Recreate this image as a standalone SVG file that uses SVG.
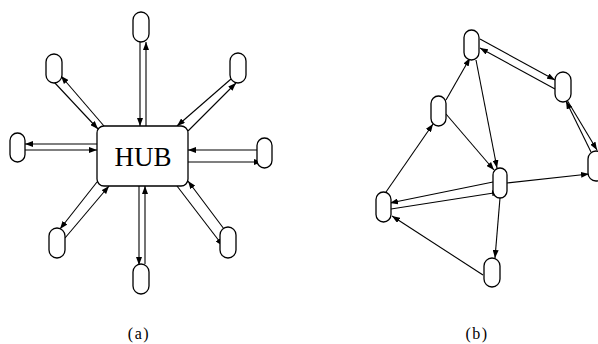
<svg xmlns="http://www.w3.org/2000/svg" width="598" height="344" viewBox="0 0 598 344">
  <style>
    .node { fill: #fff; stroke: #000; stroke-width: 1.3; }
    .edge { fill: none; stroke: #000; stroke-width: 1.1; marker-end: url(#arrow); }
    .lbl { font-family: "Liberation Serif", "Times New Roman", serif; fill: #000; text-anchor: middle; }
    .cap { font-size: 16px; letter-spacing: 1.5px; }
  </style>
  <defs>
    <marker id="arrow" markerUnits="userSpaceOnUse" markerWidth="9" markerHeight="6" refX="8" refY="3" orient="auto">
      <path d="M0,0 L8,3 L0,6 z" fill="#000"/>
    </marker>
  </defs>

  <rect width="598" height="344" fill="#fff"/>

  <!-- (a) star topology: connectors -->
  <g id="edges-a">
    <!-- top -->
    <line class="edge" x1="140" y1="42" x2="140" y2="126"/>
    <line class="edge" x1="146" y1="126" x2="146" y2="42"/>
    <!-- top-left -->
    <line class="edge" x1="54" y1="82" x2="98" y2="129"/>
    <line class="edge" x1="104" y1="126" x2="61" y2="76"/>
    <!-- top-right -->
    <line class="edge" x1="231" y1="79" x2="177" y2="126"/>
    <line class="edge" x1="188" y1="131" x2="236" y2="83"/>
    <!-- left -->
    <line class="edge" x1="97" y1="144" x2="25" y2="144"/>
    <line class="edge" x1="25" y1="150" x2="97" y2="150"/>
    <!-- right -->
    <line class="edge" x1="257" y1="150" x2="188" y2="150"/>
    <line class="edge" x1="188" y1="162" x2="262" y2="162"/>
    <!-- bottom-left -->
    <line class="edge" x1="97" y1="182" x2="60" y2="229"/>
    <line class="edge" x1="65" y1="238" x2="109" y2="186"/>
    <!-- bottom -->
    <line class="edge" x1="139" y1="186" x2="139" y2="265"/>
    <line class="edge" x1="145" y1="264" x2="145" y2="186"/>
    <!-- bottom-right -->
    <line class="edge" x1="177" y1="186" x2="223" y2="246"/>
    <line class="edge" x1="224" y1="229" x2="188" y2="181"/>
  </g>

  <!-- (a) nodes -->
  <g id="hub">
    <rect class="node" x="97" y="126" width="91" height="60" rx="7"/>
    <text class="lbl" x="143" y="166" font-size="27">HUB</text>
  </g>
  <g id="a-top"><rect class="node" x="133" y="12" width="16" height="30" rx="8"/></g>
  <g id="a-top-left"><rect class="node" x="46" y="54" width="16" height="29" rx="8"/></g>
  <g id="a-top-right"><rect class="node" x="230" y="53" width="16" height="30" rx="8"/></g>
  <g id="a-left"><rect class="node" x="10" y="133" width="15" height="29" rx="7.5"/></g>
  <g id="a-right"><rect class="node" x="257" y="138" width="15" height="30" rx="7.5"/></g>
  <g id="a-bottom-left"><rect class="node" x="49" y="228" width="16" height="30" rx="8"/></g>
  <g id="a-bottom"><rect class="node" x="133" y="264" width="16" height="30" rx="8"/></g>
  <g id="a-bottom-right"><rect class="node" x="220" y="227" width="16" height="31" rx="8"/></g>

  <!-- (b) mesh: connectors -->
  <g id="edges-b">
    <line class="edge" x1="386" y1="192" x2="433" y2="124"/>
    <line class="edge" x1="446" y1="100" x2="470" y2="58"/>
    <line class="edge" x1="446" y1="114" x2="494" y2="170"/>
    <line class="edge" x1="476" y1="60" x2="497" y2="168"/>
    <line class="edge" x1="480" y1="39" x2="555" y2="80"/>
    <line class="edge" x1="555" y1="89" x2="480" y2="48"/>
    <line class="edge" x1="567" y1="100" x2="597" y2="150"/>
    <line class="edge" x1="591" y1="152" x2="566" y2="101"/>
    <line class="edge" x1="507" y1="183" x2="589" y2="174"/>
    <line class="edge" x1="493" y1="182" x2="390" y2="203"/>
    <line class="edge" x1="391" y1="209" x2="500" y2="192"/>
    <line class="edge" x1="500" y1="198" x2="495" y2="258"/>
    <line class="edge" x1="483" y1="275" x2="392" y2="216"/>
  </g>

  <!-- (b) nodes -->
  <g id="b-top"><rect class="node" x="464" y="30" width="15" height="30" rx="7.5"/></g>
  <g id="b-mid-left"><rect class="node" x="431" y="96" width="15" height="30" rx="7.5"/></g>
  <g id="b-upper-right"><rect class="node" x="555" y="72" width="16" height="30" rx="8"/></g>
  <g id="b-far-right"><rect class="node" x="588" y="151" width="16" height="30" rx="8"/></g>
  <g id="b-center"><rect class="node" x="493" y="168" width="14" height="30" rx="7"/></g>
  <g id="b-left"><rect class="node" x="376" y="192" width="15" height="30" rx="7.5"/></g>
  <g id="b-bottom"><rect class="node" x="484" y="258" width="16" height="29" rx="8"/></g>

  <!-- captions -->
  <text class="lbl cap" x="139" y="339">(a)</text>
  <text class="lbl cap" x="477" y="339">(b)</text>
</svg>
